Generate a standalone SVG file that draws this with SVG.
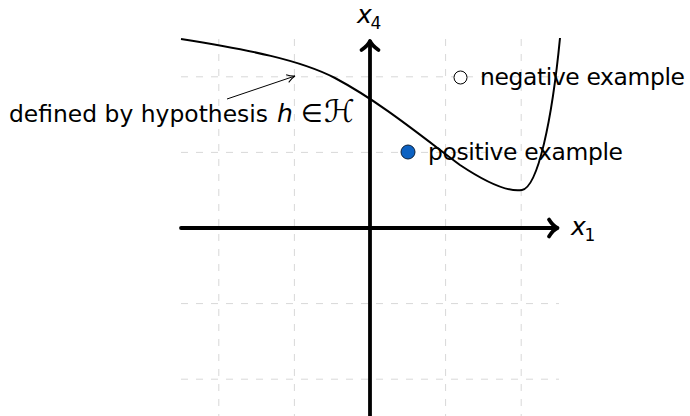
<svg xmlns="http://www.w3.org/2000/svg" width="690" height="416" viewBox="0 0 690 416">
<defs>
<style>
.grid{stroke:#d8d8d8;stroke-width:1;stroke-dasharray:7 8;fill:none}
.axis{stroke:#000;stroke-width:3.8;fill:none;stroke-linecap:round;stroke-linejoin:round}
.curve{stroke:#000;stroke-width:2;fill:none}
.txt{font-family:"DejaVu Sans","Liberation Sans",sans-serif;font-size:23.4px;fill:#000}
.math{font-family:"DejaVu Sans","Liberation Sans",sans-serif;font-style:italic;font-size:25px;fill:#000}
.sub{font-family:"DejaVu Sans","Liberation Sans",sans-serif;font-size:17px;fill:#000}
</style>
<marker id="arr" viewBox="0 0 10 10" refX="9" refY="5" markerWidth="10" markerHeight="10" markerUnits="userSpaceOnUse" orient="auto">
<path d="M1,1 Q5,4 9,5 Q5,6 1,9" fill="none" stroke="#000" stroke-width="1"/>
</marker>
</defs>
<rect width="690" height="416" fill="#fff"/>
<g id="grid">
<path class="grid" d="M218.8,39 V417 M294.4,39 V417 M370,39 V417 M445.6,39 V417 M521.2,39 V417"/>
<path class="grid" d="M181,76.8 H559 M181,152.4 H559 M181,228 H559 M181,303.6 H559 M181,379.2 H559"/>
</g>
<g id="axes">
<path class="axis" d="M181,228 H557"/>
<path class="axis" d="M549,219.5 Q553,226 557.5,228 Q553,230 549,236.5"/>
<path class="axis" d="M370,416 V42"/>
<path class="axis" d="M361.5,50 Q368,45.5 370,41 Q372,45.5 378.5,50"/>
<text class="math" x="357" y="23">x</text>
<text class="sub" x="370.5" y="28.5">4</text>
<text class="math" x="571" y="235">x</text>
<text class="sub" x="584.5" y="240.5">1</text>
</g>
<g id="hypothesis">
<path class="curve" d="M181,39 C250,50 300,60 335,78 C380,102 420,135 460,165 C490,185 510,192 522,190 C538,187 552,120 560,38"/>
</g>
<g id="connectors">
<path d="M227,99 L295,76" stroke="#000" stroke-width="1" fill="none" marker-end="url(#arr)"/>
</g>
<g id="label-hypothesis">
<text class="txt" y="122"><tspan x="9" textLength="259" lengthAdjust="spacing">defined by hypothesis</tspan><tspan x="277" font-style="italic" style="font-size:25px">h</tspan><tspan x="301" style="font-size:25px">∈</tspan><tspan x="324" font-style="italic" style="font-size:31px">ℋ</tspan></text>
</g>
<g id="negative-example">
<circle cx="460.5" cy="77.5" r="6.5" fill="#fff" stroke="#000" stroke-width="1"/>
<text class="txt" x="480" y="84.5" textLength="205" lengthAdjust="spacing">negative example</text>
</g>
<g id="positive-example">
<circle cx="408" cy="152" r="7" fill="#0d62c2" stroke="#0a1f3a" stroke-width="1"/>
<text class="txt" x="428" y="160" textLength="195" lengthAdjust="spacing">positive example</text>
</g>
</svg>
